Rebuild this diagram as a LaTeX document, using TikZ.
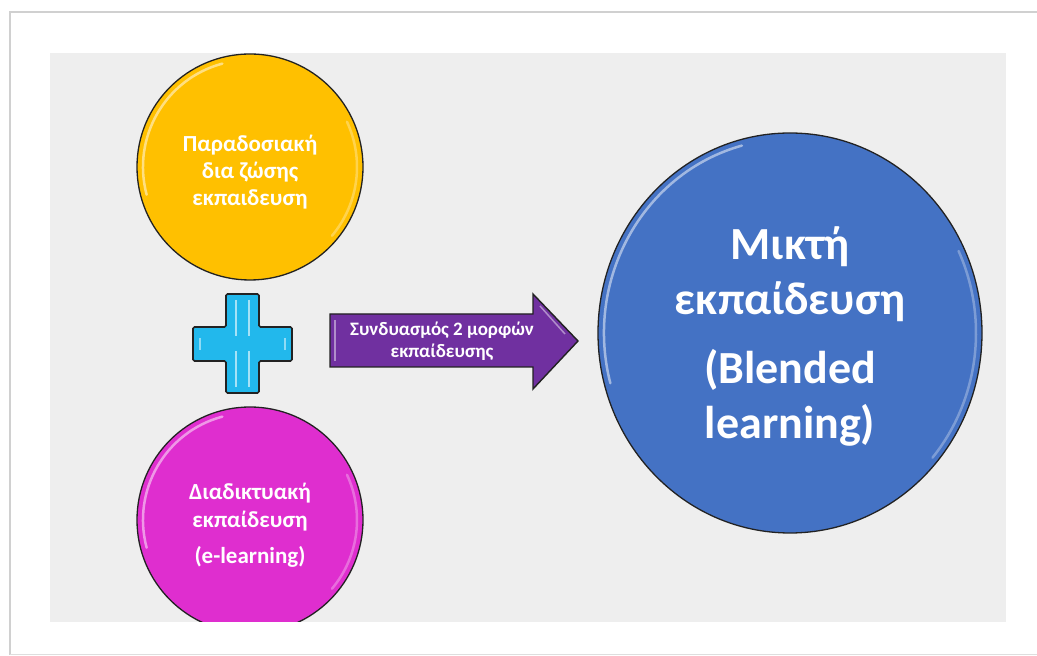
\documentclass[tikz,border=0pt]{standalone}
\usepackage{fontspec}
\setmainfont{Carlito}
\usetikzlibrary{calc,shapes.geometric}
\definecolor{bggray}{HTML}{EEEEEE}
\definecolor{framegray}{HTML}{D0D0D0}
\definecolor{yel}{HTML}{FFC000}
\definecolor{mag}{HTML}{DF2ECF}
\definecolor{blu}{HTML}{4472C4}
\definecolor{pur}{HTML}{7030A0}
\definecolor{cya}{HTML}{22B8EC}
\definecolor{rim}{HTML}{222222}
\tikzset{
  bubble/.style={circle, draw=rim, line width=1.3pt, inner sep=0pt},
  hl/.style={white, line width=2.5pt, opacity=0.5, line cap=round},
  wtext/.style={text=white, font=\bfseries, align=center, inner sep=0pt},
}
\begin{document}
\begin{tikzpicture}[x=1pt,y=1pt]
\useasboundingbox (0,0) rectangle (1037,656);
\fill[white] (0,0) rectangle (1037,656);
% outer frame shadow
\draw[framegray, line width=2pt] (10,1) -- (10,644) -- (1037,644);
\draw[framegray!70, line width=1.5pt] (10,1.5) -- (1037,1.5);
% gray panel
\coordinate (panelSW) at (50,34);
\coordinate (panelNE) at (1006,603);
\fill[bggray] (panelSW) rectangle (panelNE);
\begin{scope}
\clip (panelSW) rectangle (panelNE);
% circles
\node (trad) [bubble, fill=yel, minimum size=226pt] at (250,489) {};
\node (online) [bubble, fill=mag, minimum size=226pt] at (250,136) {};
\node (blend) [ellipse, draw=rim, line width=1.3pt, fill=blu, minimum width=384pt, minimum height=400pt, inner sep=0pt] at (790,323) {};
% highlights
\foreach \c/\r in {trad/107, online/107}{
  \draw[hl] ($(\c)+(105:\r)$) arc[start angle=105, end angle=195, radius=\r];
  \draw[hl, opacity=0.3] ($(\c)+(-40:\r)$) arc[start angle=-40, end angle=25, radius=\r];
}
\draw[hl] ($(blend)+(105:186 and 194)$) arc[start angle=105, end angle=195, x radius=186, y radius=194];
\draw[hl, opacity=0.3] ($(blend)+(-40:186 and 194)$) arc[start angle=-40, end angle=25, x radius=186, y radius=194];
\end{scope}
% plus sign
\draw[rim, line width=1.6pt, fill=cya, rounded corners=1.5pt]
  (226,362) -- (259,362) -- (259,329) -- (292,329) -- (292,295) -- (259,295)
  -- (259,263) -- (226,263) -- (226,295) -- (193,295) -- (193,329) -- (226,329) -- cycle;
\draw[white, opacity=0.6, line width=2pt] (236,356) -- (236,320) (249,356) -- (249,320)
  (236,305) -- (236,269) (249,305) -- (249,269);
\draw[white, opacity=0.5, line width=2pt] (200,318) -- (200,306) (285,318) -- (285,306);
% arrow
\draw[rim, line width=1.4pt, fill=pur]
  (330,342) -- (533,342) -- (533,362) -- (578,315) -- (533,267) -- (533,289) -- (330,289) -- cycle;
\draw[white, opacity=0.45, line width=1.5pt] (335,336) -- (335,295);
\draw[white, opacity=0.45, line width=1.5pt] (540,350) -- (565,322);
% texts
\node (tradtext) [wtext, font=\bfseries\fontsize{23}{27}\selectfont] at (250,484)
  {Παραδοσιακή\\δια ζώσης\\εκπαιδευση};
\node (onlinetext) [wtext, font=\bfseries\fontsize{23}{28}\selectfont] at (250,131)
  {Διαδικτυακή\\εκπαίδευση\\[8pt](e-learning)};
\node (blendtext) [wtext, font=\bfseries\fontsize{46}{55}\selectfont] at (790,320)
  {Μικτή\\εκπαίδευση\\[14pt](Blended\\learning)};
\node (arrowtext) [wtext, font=\bfseries\fontsize{19}{22}\selectfont] at (442,315)
  {Συνδυασμός 2 μορφών\\εκπαίδευσης};
\end{tikzpicture}
\end{document}
